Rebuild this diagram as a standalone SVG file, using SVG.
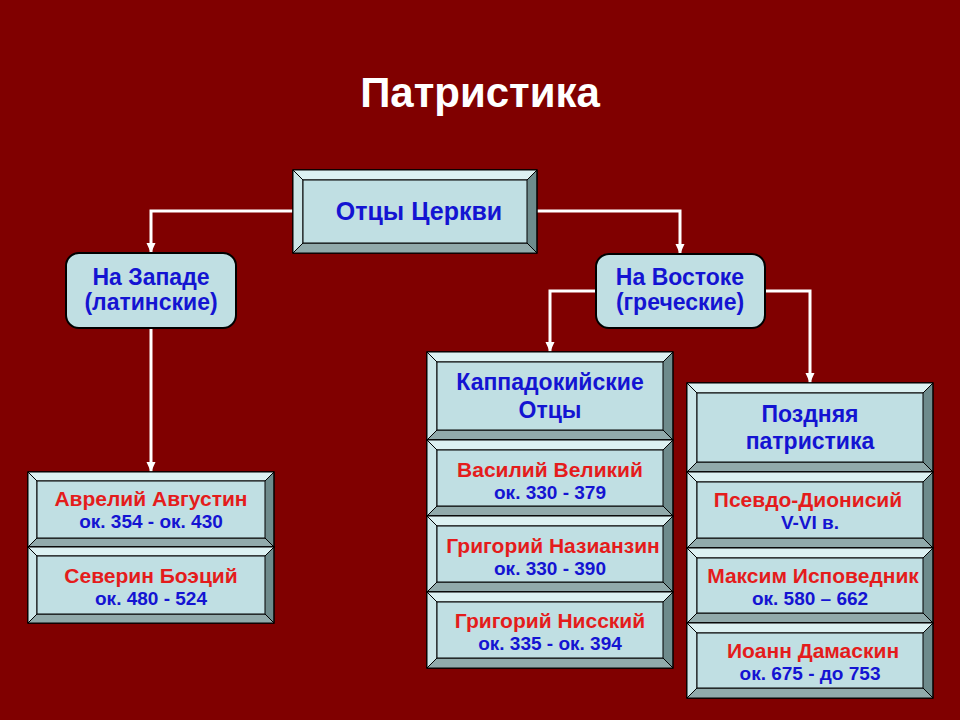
<svg xmlns="http://www.w3.org/2000/svg" width="960" height="720" viewBox="0 0 960 720">
<defs>
<marker id="arr" markerUnits="userSpaceOnUse" markerWidth="10" markerHeight="10" refX="10" refY="4.5" orient="auto">
<path d="M0,0 L10,4.5 L0,9 Z" fill="#ffffff"/>
</marker>
<style>
.bt{fill:#dcf1f2;stroke:#000;stroke-width:1}
.bl{fill:#cce6e8;stroke:#000;stroke-width:1}
.br{fill:#6e8b8c;stroke:#000;stroke-width:1.5}
.bb{fill:#91aaab;stroke:#000;stroke-width:1}
.face{fill:#c0dfe3;stroke:#000;stroke-width:1}
.rbox{fill:#c0dfe3;stroke:#000;stroke-width:2}
.conn{fill:none;stroke:#ffffff;stroke-width:3;marker-end:url(#arr)}
text{font-family:"Liberation Sans",Arial,sans-serif;font-weight:bold;text-anchor:middle}
.title{fill:#ffffff;font-size:42px}
.blue{fill:#1414d2}
.red{fill:#e41c1c}
.n{font-size:21px}
.d{font-size:19px}
.h{font-size:23px}
</style>
</defs>
<rect x="0" y="0" width="960" height="720" fill="#800000"/>
<text class="title" x="480" y="107">Патристика</text>

<g id="connectors">
<path class="conn" d="M293,211 H151 V253"/>
<path class="conn" d="M537,211 H680 V254"/>
<path class="conn" d="M151,328 V472"/>
<path class="conn" d="M596,291 H550 V352"/>
<path class="conn" d="M765,291 H810 V383"/>
</g>

<g id="fathers">
<rect class="br" x="293" y="170" width="244" height="83"/>
<polygon class="bb" points="293,253 537,253 527,243 303,243"/>
<polygon class="bt" points="293,170 537,170 527,180 303,180"/>
<polygon class="bl" points="293,170 303,180 303,243 293,253"/>
<rect class="face" x="303" y="180" width="224" height="63"/>
<text class="blue" x="419" y="220" font-size="25">Отцы Церкви</text>
</g>

<g id="west">
<rect class="rbox" x="66" y="253" width="170" height="75" rx="13"/>
<text class="blue h" x="151" y="285">На Западе</text>
<text class="blue h" x="151" y="310">(латинские)</text>
</g>

<g id="east">
<rect class="rbox" x="596" y="254" width="169" height="74" rx="13"/>
<text class="blue h" x="680" y="285">На Востоке</text>
<text class="blue h" x="680" y="310">(греческие)</text>
</g>

<g id="augustine">
<rect class="br" x="28" y="472" width="246" height="75"/>
<polygon class="bb" points="28,547 274,547 265,538 37,538"/>
<polygon class="bt" points="28,472 274,472 265,481 37,481"/>
<polygon class="bl" points="28,472 37,481 37,538 28,547"/>
<rect class="face" x="37" y="481" width="228" height="57"/>
<text class="red n" x="151" y="506">Аврелий Августин</text>
<text class="blue d" x="151" y="528">ок. 354 - ок. 430</text>
</g>

<g id="boethius">
<rect class="br" x="28" y="547" width="246" height="76"/>
<polygon class="bb" points="28,623 274,623 265,614 37,614"/>
<polygon class="bt" points="28,547 274,547 265,556 37,556"/>
<polygon class="bl" points="28,547 37,556 37,614 28,623"/>
<rect class="face" x="37" y="556" width="228" height="58"/>
<text class="red n" x="151" y="583">Северин Боэций</text>
<text class="blue d" x="151" y="605">ок. 480 - 524</text>
</g>

<g id="cappadocian">
<rect class="br" x="427" y="352" width="246" height="88"/>
<polygon class="bb" points="427,440 673,440 663,430 437,430"/>
<polygon class="bt" points="427,352 673,352 663,362 437,362"/>
<polygon class="bl" points="427,352 437,362 437,430 427,440"/>
<rect class="face" x="437" y="362" width="226" height="68"/>
<text class="blue h" x="550" y="390">Каппадокийские</text>
<text class="blue h" x="550" y="418">Отцы</text>
</g>

<g id="basil">
<rect class="br" x="427" y="440" width="246" height="76"/>
<polygon class="bb" points="427,516 673,516 663,506 437,506"/>
<polygon class="bt" points="427,440 673,440 663,450 437,450"/>
<polygon class="bl" points="427,440 437,450 437,506 427,516"/>
<rect class="face" x="437" y="450" width="226" height="56"/>
<text class="red n" x="550" y="477">Василий Великий</text>
<text class="blue d" x="550" y="499">ок. 330 - 379</text>
</g>

<g id="nazianzen">
<rect class="br" x="427" y="516" width="246" height="76"/>
<polygon class="bb" points="427,592 673,592 663,582 437,582"/>
<polygon class="bt" points="427,516 673,516 663,526 437,526"/>
<polygon class="bl" points="427,516 437,526 437,582 427,592"/>
<rect class="face" x="437" y="526" width="226" height="56"/>
<text class="red n" x="553" y="553">Григорий Назианзин</text>
<text class="blue d" x="550" y="575">ок. 330 - 390</text>
</g>

<g id="nyssa">
<rect class="br" x="427" y="592" width="246" height="76"/>
<polygon class="bb" points="427,668 673,668 663,658 437,658"/>
<polygon class="bt" points="427,592 673,592 663,602 437,602"/>
<polygon class="bl" points="427,592 437,602 437,658 427,668"/>
<rect class="face" x="437" y="602" width="226" height="56"/>
<text class="red n" x="550" y="628">Григорий Нисский</text>
<text class="blue d" x="550" y="650">ок. 335 - ок. 394</text>
</g>

<g id="late">
<rect class="br" x="687" y="383" width="246" height="89"/>
<polygon class="bb" points="687,472 933,472 923,462 697,462"/>
<polygon class="bt" points="687,383 933,383 923,393 697,393"/>
<polygon class="bl" points="687,383 697,393 697,462 687,472"/>
<rect class="face" x="697" y="393" width="226" height="69"/>
<text class="blue h" x="810" y="422">Поздняя</text>
<text class="blue h" x="810" y="449">патристика</text>
</g>

<g id="dionysius">
<rect class="br" x="687" y="472" width="246" height="76"/>
<polygon class="bb" points="687,548 933,548 923,538 697,538"/>
<polygon class="bt" points="687,472 933,472 923,482 697,482"/>
<polygon class="bl" points="687,472 697,482 697,538 687,548"/>
<rect class="face" x="697" y="482" width="226" height="56"/>
<text class="red n" x="808" y="507">Псевдо-Дионисий</text>
<text class="blue d" x="810" y="529">V-VI в.</text>
</g>

<g id="maximus">
<rect class="br" x="687" y="548" width="246" height="75"/>
<polygon class="bb" points="687,623 933,623 923,613 697,613"/>
<polygon class="bt" points="687,548 933,548 923,558 697,558"/>
<polygon class="bl" points="687,548 697,558 697,613 687,623"/>
<rect class="face" x="697" y="558" width="226" height="55"/>
<text class="red n" x="813" y="583">Максим Исповедник</text>
<text class="blue d" x="810" y="605">ок. 580 – 662</text>
</g>

<g id="damascene">
<rect class="br" x="687" y="623" width="246" height="75"/>
<polygon class="bb" points="687,698 933,698 923,688 697,688"/>
<polygon class="bt" points="687,623 933,623 923,633 697,633"/>
<polygon class="bl" points="687,623 697,633 697,688 687,698"/>
<rect class="face" x="697" y="633" width="226" height="55"/>
<text class="red n" x="813" y="658">Иоанн Дамаскин</text>
<text class="blue d" x="810" y="680">ок. 675 - до 753</text>
</g>
</svg>
